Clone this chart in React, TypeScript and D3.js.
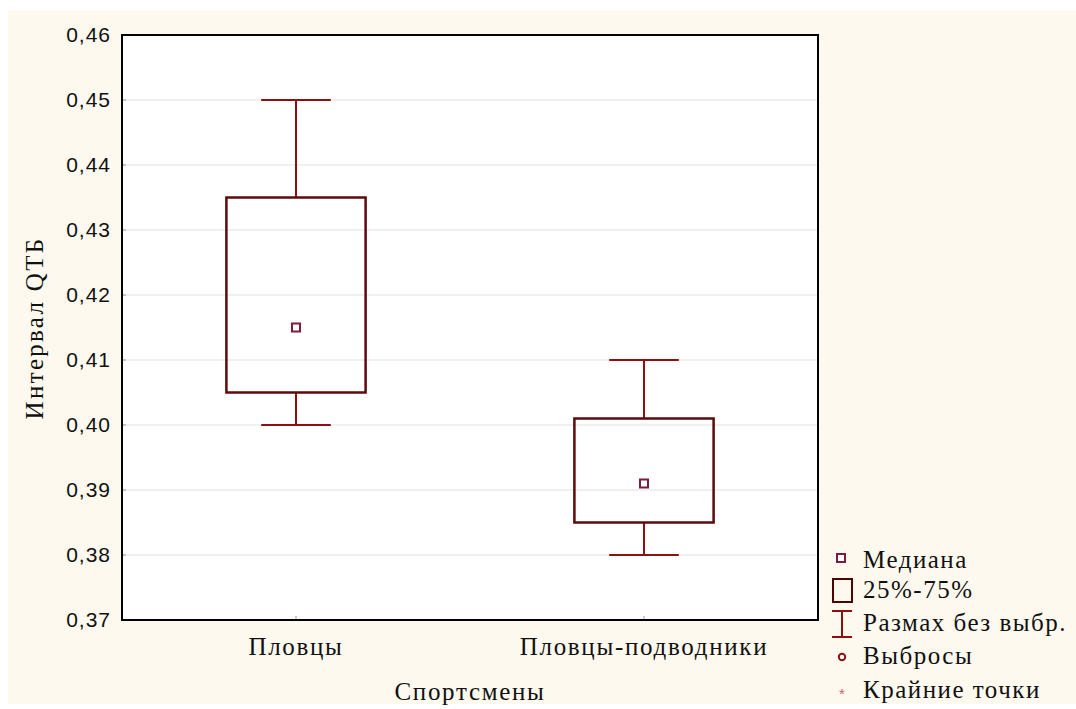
import React from 'react';
import * as d3 from 'd3';

// box plot values
const categories = ['Пловцы', 'Пловцы-подводники'];
const medians = [0.415, 0.391];
const q1 = [0.405, 0.385];
const q3 = [0.435, 0.401];
const whiskLow = [0.4, 0.38];
const whiskHigh = [0.45, 0.41];
const yTicks = [0.37, 0.38, 0.39, 0.4, 0.41, 0.42, 0.43, 0.44, 0.45, 0.46];

const legendItems = ['Медиана', '25%-75%', 'Размах без выбр.', 'Выбросы', 'Крайние точки'];

const W = 1076;
const H = 709;
const plot = { left: 122, right: 818, top: 35, bottom: 620 };

const serif = '"Liberation Serif", "Times New Roman", serif';
const sans = '"Liberation Sans", Arial, sans-serif';

export default function App() {
    const y = d3.scaleLinear().domain([0.37, 0.46]).range([plot.bottom, plot.top]);
    const x = d3.scaleBand<string>().domain(categories).range([plot.left, plot.right]);
    const boxW = x.bandwidth() * 0.4;
    const capW = boxW / 2;
    const fmt = (v: number) => d3.format('.2f')(v).replace('.', ',');

    const boxStroke = '#5c0a0a';
    const whiskStroke = '#8e1010';

    const legendY = [562, 592, 625, 658, 692];

    return (
        <svg width={W} height={H} style={{ position: 'absolute', left: 0, top: 0 }}>
            <rect x={0} y={0} width={W} height={H} fill="#ffffff" />
            <rect x={8} y={10} width={W - 8} height={694} fill="#fdf9ee" />
            <rect x={plot.left} y={plot.top} width={plot.right - plot.left} height={plot.bottom - plot.top} fill="#ffffff" />

            {/* faint grid */}
            {yTicks.map(t => (
                <line key={'g' + t} x1={plot.left} x2={plot.right} y1={y(t)} y2={y(t)} stroke="#f0f0f0" strokeWidth={2} />
            ))}

            {/* tick dots */}
            {yTicks.map(t => (
                <line key={'tk' + t} x1={plot.left} x2={plot.left + 4} y1={y(t)} y2={y(t)} stroke="#999" strokeWidth={1} />
            ))}
            {categories.map(c => (
                <line key={'xt' + c} x1={x(c)! + x.bandwidth() / 2} x2={x(c)! + x.bandwidth() / 2} y1={plot.bottom} y2={plot.bottom - 4} stroke="#999" strokeWidth={1} />
            ))}

            {/* boxes */}
            {categories.map((c, i) => {
                const cx = x(c)! + x.bandwidth() / 2;
                return (
                    <g key={c}>
                        <line x1={cx} x2={cx} y1={y(whiskHigh[i])} y2={y(q3[i])} stroke={whiskStroke} strokeWidth={2} />
                        <line x1={cx} x2={cx} y1={y(q1[i])} y2={y(whiskLow[i])} stroke={whiskStroke} strokeWidth={2} />
                        <line x1={cx - capW / 2} x2={cx + capW / 2} y1={y(whiskHigh[i])} y2={y(whiskHigh[i])} stroke={whiskStroke} strokeWidth={2} />
                        <line x1={cx - capW / 2} x2={cx + capW / 2} y1={y(whiskLow[i])} y2={y(whiskLow[i])} stroke={whiskStroke} strokeWidth={2} />
                        <rect x={cx - boxW / 2} y={y(q3[i])} width={boxW} height={y(q1[i]) - y(q3[i])} fill="none" stroke={boxStroke} strokeWidth={2.5} />
                        <rect x={cx - 4} y={y(medians[i]) - 4} width={8} height={8} fill="#fff" stroke="#7a1c3c" strokeWidth={2} />
                    </g>
                );
            })}

            {/* frame */}
            <rect x={plot.left} y={plot.top} width={plot.right - plot.left} height={plot.bottom - plot.top} fill="none" stroke="#000" strokeWidth={2} />

            {/* y tick labels */}
            {yTicks.map(t => (
                <text key={'yl' + t} x={plot.left - 11} y={y(t)} dy="0.35em" textAnchor="end" fontFamily={sans} fontSize={21} letterSpacing={1} fill="#111">
                    {fmt(t)}
                </text>
            ))}

            {/* x labels */}
            {categories.map(c => (
                <text key={'xl' + c} x={x(c)! + x.bandwidth() / 2} y={655} textAnchor="middle" fontFamily={serif} fontSize={25} letterSpacing={1.7} fill="#111">
                    {c}
                </text>
            ))}

            <text x={470} y={700} textAnchor="middle" fontFamily={serif} fontSize={25} letterSpacing={1.7} fill="#111">Спортсмены</text>
            <text transform="translate(43,328) rotate(-90)" textAnchor="middle" fontFamily={serif} fontSize={25} letterSpacing={2.3} fill="#111">Интервал QTБ</text>

            {/* legend */}
            <g>
                <rect x={837} y={554} width={8} height={8} fill="#fff" stroke="#7a1c3c" strokeWidth={2} />
                <rect x={833} y={579} width={19} height={23} fill="none" stroke="#4a0505" strokeWidth={2} />
                <line x1={842} x2={842} y1={611} y2={637} stroke={whiskStroke} strokeWidth={2} />
                <line x1={832} x2={852} y1={611} y2={611} stroke={whiskStroke} strokeWidth={2} />
                <line x1={832} x2={852} y1={637} y2={637} stroke={whiskStroke} strokeWidth={2} />
                <circle cx={842} cy={657} r={3.2} fill="#fff" stroke="#8e1010" strokeWidth={2} />
                <text x={842} y={699} textAnchor="middle" fontFamily={sans} fontSize={15} fill="#d06070">*</text>
                {legendItems.map((l, i) => (
                    <text key={l} x={863} y={legendY[i] + 6} fontFamily={serif} fontSize={25} letterSpacing={1.5} fill="#111">{l}</text>
                ))}
            </g>
        </svg>
    );
}
